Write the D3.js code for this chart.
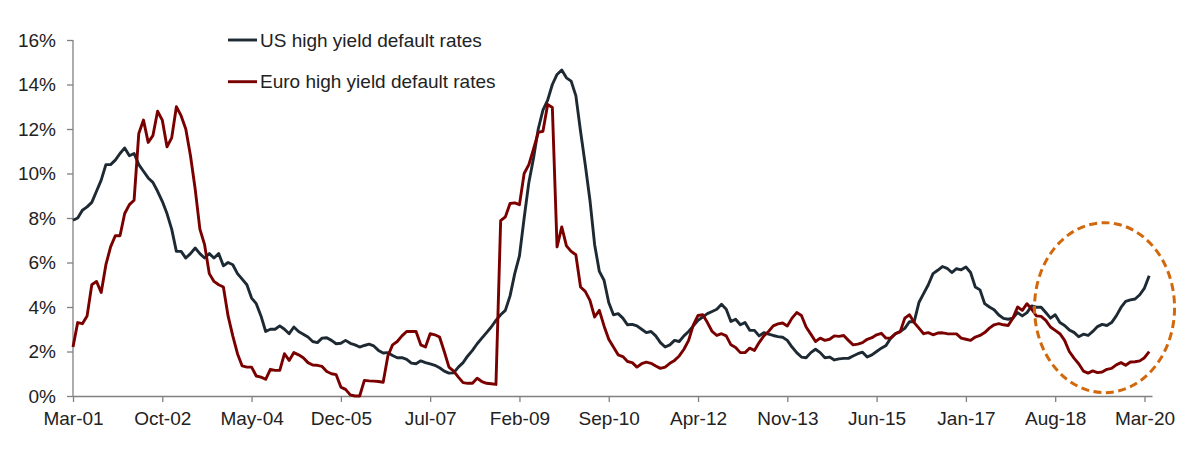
<!DOCTYPE html>
<html>
<head>
<meta charset="utf-8">
<script src="https://cdn.jsdelivr.net/npm/d3@7"></script>
<style>
  body { margin: 0; background: #fff; }
  svg { display: block; font-family: "Liberation Sans", Arial, sans-serif; }
</style>
</head>
<body>
<div id="chart"></div>
<script>
// monthly default rates (%), Mar-01 .. Apr-20
var usRates = [
  7.9, 8.0, 8.35, 8.5, 8.7, 9.2, 9.7, 10.4, 10.4, 10.6, 10.9, 11.15, 10.8, 10.9, 10.4, 10.1, 9.8, 9.6, 9.2, 8.75,
  8.2, 7.5, 6.5, 6.5, 6.2, 6.4, 6.65, 6.4, 6.2, 6.4, 6.2, 6.4, 5.85, 6.0, 5.9, 5.5, 5.25, 5.0, 4.4, 4.15,
  3.6, 2.9, 3.0, 3.0, 3.15, 3.0, 2.8, 3.1, 2.9, 2.78, 2.65, 2.45, 2.4, 2.6, 2.62, 2.5, 2.35, 2.37, 2.5, 2.37,
  2.3, 2.2, 2.27, 2.33, 2.25, 2.05, 1.93, 1.95, 1.82, 1.72, 1.72, 1.65, 1.48, 1.45, 1.58, 1.5, 1.44, 1.38, 1.27, 1.12,
  1.03, 1.04, 1.3, 1.5, 1.8, 2.05, 2.35, 2.6, 2.85, 3.1, 3.4, 3.65, 3.85, 4.5, 5.5, 6.3, 8.0, 9.6, 10.7, 12.0,
  12.85, 13.3, 14.0, 14.45, 14.65, 14.3, 14.15, 13.5, 11.9, 10.4, 8.8, 6.8, 5.6, 5.2, 4.2, 3.65, 3.7, 3.5, 3.2, 3.22,
  3.15, 3.0, 2.85, 2.9, 2.7, 2.4, 2.2, 2.3, 2.5, 2.45, 2.7, 2.9, 3.15, 3.4, 3.55, 3.7, 3.8, 3.9, 4.12, 3.9,
  3.35, 3.45, 3.2, 3.3, 2.95, 2.95, 2.7, 2.85, 2.78, 2.72, 2.67, 2.64, 2.5, 2.2, 1.95, 1.75, 1.72, 1.95, 2.1, 1.95,
  1.72, 1.75, 1.62, 1.67, 1.69, 1.69, 1.8, 1.9, 1.97, 1.75, 1.85, 2.0, 2.15, 2.27, 2.6, 2.8, 2.9, 3.04, 3.34, 3.34,
  4.2, 4.6, 5.0, 5.5, 5.65, 5.82, 5.74, 5.55, 5.72, 5.67, 5.8, 5.55, 4.9, 4.77, 4.15, 4.0, 3.88, 3.64, 3.49, 3.45,
  3.5, 3.75, 3.6, 3.75, 4.05, 3.99, 3.99, 3.75, 3.5, 3.65, 3.3, 3.17, 2.97, 2.86, 2.66, 2.78, 2.72, 2.9, 3.12, 3.22,
  3.17, 3.3, 3.6, 3.98, 4.25, 4.32, 4.36, 4.55, 4.85, 5.4
];
var euroRates = [
  2.2, 3.3, 3.25, 3.6, 5.0, 5.15, 4.65, 5.9, 6.7, 7.2, 7.2, 8.2, 8.6, 8.8, 11.8, 12.4, 11.4, 11.7, 12.8, 12.4,
  11.2, 11.6, 13.0, 12.6, 12.0, 10.8, 9.3, 7.5, 6.8, 5.5, 5.15, 5.0, 4.9, 3.6, 2.7, 1.9, 1.35, 1.3, 1.3, 0.9,
  0.85, 0.75, 1.2, 1.15, 1.15, 1.9, 1.6, 1.95, 1.85, 1.72, 1.5, 1.39, 1.38, 1.33, 1.1, 1.0, 0.96, 0.4, 0.3, 0.05,
  0.0, 0.0, 0.7, 0.68, 0.67, 0.65, 0.62, 1.8, 2.3, 2.45, 2.7, 2.9, 2.9, 2.9, 2.3, 2.2, 2.8, 2.75, 2.65, 2.0,
  1.3, 1.12, 0.85, 0.6, 0.57, 0.57, 0.8, 0.65, 0.57, 0.55, 0.52, 7.88, 8.05, 8.65, 8.68, 8.6, 10.0, 10.4, 11.1, 11.85,
  11.9, 13.1, 12.97, 6.7, 7.6, 6.75, 6.5, 6.35, 4.9, 4.7, 4.3, 3.55, 3.85, 3.15, 2.55, 2.2, 1.85, 1.77, 1.55, 1.5,
  1.3, 1.45, 1.52, 1.47, 1.35, 1.24, 1.3, 1.47, 1.6, 1.8, 2.1, 2.5, 3.2, 3.62, 3.65, 3.3, 2.9, 2.72, 2.8, 2.7,
  2.3, 2.18, 1.95, 1.95, 2.15, 2.05, 2.4, 2.7, 2.9, 3.15, 3.24, 3.28, 3.15, 3.5, 3.75, 3.62, 3.1, 2.78, 2.45, 2.6,
  2.5, 2.55, 2.7, 2.68, 2.72, 2.5, 2.3, 2.33, 2.4, 2.55, 2.62, 2.75, 2.82, 2.6, 2.6, 2.8, 2.88, 3.5, 3.65, 3.3,
  3.05, 2.8, 2.85, 2.75, 2.83, 2.84, 2.8, 2.79, 2.79, 2.6, 2.55, 2.5, 2.65, 2.72, 2.85, 3.05, 3.2, 3.25, 3.2, 3.17,
  3.5, 4.0, 3.85, 4.15, 3.9, 3.6, 3.58, 3.4, 3.1, 2.95, 2.8, 2.5, 2.0, 1.7, 1.45, 1.12, 1.03, 1.13, 1.05, 1.08,
  1.2, 1.24, 1.4, 1.5, 1.38, 1.53, 1.54, 1.58, 1.72, 1.99
];
// x tick labels, one every 19 months starting Mar-01
var xTickLabels = ["Mar-01", "Oct-02", "May-04", "Dec-05", "Jul-07", "Feb-09", "Sep-10",
                   "Apr-12", "Nov-13", "Jun-15", "Jan-17", "Aug-18", "Mar-20"];
var yTicks = [0, 2, 4, 6, 8, 10, 12, 14, 16];
var seriesNames = ["US high yield default rates", "Euro high yield default rates"];
var seriesColors = ["#1e2a33", "#7a0000"];

var W = 1190, H = 454;
var margin = {top: 40, right: 38, bottom: 58, left: 73};
var width = W - margin.left - margin.right;
var height = H - margin.top - margin.bottom;

var svg = d3.select("#chart")
    .append("svg")
    .attr("width", W)
    .attr("height", H)
    .append("g")
    .attr("transform", "translate(" + margin.left + "," + margin.top + ")");

var x = d3.scaleLinear()
    .domain([0, 229.6])
    .range([0, width]);
var y = d3.scaleLinear()
    .domain([0, 16])
    .range([height, 0]);

// Y axis
var yAxis = svg.append("g")
    .call(d3.axisLeft(y)
        .tickValues(yTicks)
        .tickSize(6)
        .tickPadding(11)
        .tickFormat(function(d) { return d + "%"; }));

// X axis
var xAxis = svg.append("g")
    .attr("transform", "translate(0," + height + ")")
    .call(d3.axisBottom(x)
        .tickValues(xTickLabels.map(function(d, i) { return i * 19; }))
        .tickSize(6)
        .tickPadding(10)
        .tickSizeOuter(0)
        .tickFormat(function(d, i) { return xTickLabels[i]; }));

[xAxis, yAxis].forEach(function(a) {
    a.selectAll("path, line").attr("stroke", "#808080").attr("stroke-width", 1.3);
    a.selectAll("text").attr("fill", "#222").style("font-size", "19px")
        .style("font-family", "'Liberation Sans', Arial, sans-serif");
});
yAxis.select(".domain").attr("d", "M0," + height + "V0");

var line = d3.line()
    .x(function(d, i) { return x(i); })
    .y(function(d) { return y(d); });

[usRates, euroRates].forEach(function(s, k) {
    svg.append("path")
        .datum(s)
        .attr("fill", "none")
        .attr("stroke", seriesColors[k])
        .attr("stroke-width", 2.9)
        .attr("stroke-linejoin", "round")
        .attr("d", line);
});

// highlight ellipse around the latest period
svg.append("ellipse")
    .attr("cx", x(219.5))
    .attr("cy", y(3.97))
    .attr("rx", x(14.9) - x(0))
    .attr("ry", y(0) - y(3.82))
    .attr("fill", "none")
    .attr("stroke", "#d2680c")
    .attr("stroke-width", 3)
    .attr("stroke-dasharray", "8,4.5");

// legend
var legend = svg.append("g")
    .attr("transform", "translate(" + (228 - margin.left) + "," + (40 - margin.top) + ")");
seriesNames.forEach(function(name, k) {
    var g = legend.append("g").attr("transform", "translate(0," + (k * 41.7) + ")");
    g.append("line")
        .attr("x1", 0).attr("x2", 29)
        .attr("y1", 0).attr("y2", 0)
        .attr("stroke", seriesColors[k])
        .attr("stroke-width", 2.9);
    g.append("text")
        .attr("x", 32)
        .attr("dy", "0.35em")
        .attr("fill", "#222")
        .style("font-size", "19px")
        .text(name);
});
</script>
</body>
</html>
